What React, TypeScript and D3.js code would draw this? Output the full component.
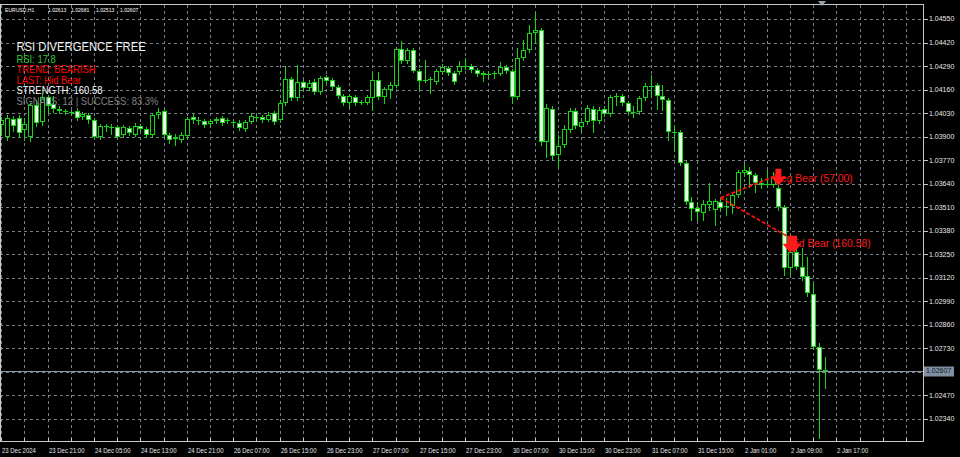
import React from 'react';
import * as d3 from 'd3';

// [open, high, low, close] hourly EURUSD bars, 23 Dec 2024 13:00 ... 2 Jan 2025 19:00
const candles: [number, number, number, number][] = [
  [1.03965, 1.04009, 1.03910, 1.03993],
  [1.03899, 1.04020, 1.03882, 1.04004],
  [1.03998, 1.04015, 1.03932, 1.03959],
  [1.04004, 1.04020, 1.03899, 1.03921],
  [1.03937, 1.04004, 1.03882, 1.03971],
  [1.03899, 1.04086, 1.03877, 1.04075],
  [1.04075, 1.04103, 1.03959, 1.03976],
  [1.03982, 1.04136, 1.03965, 1.04120],
  [1.04120, 1.04131, 1.04037, 1.04070],
  [1.04081, 1.04125, 1.04037, 1.04053],
  [1.04053, 1.04070, 1.04031, 1.04042],
  [1.04042, 1.04053, 1.04026, 1.04037],
  [1.04037, 1.04048, 1.04020, 1.04031],
  [1.04042, 1.04059, 1.03993, 1.04004],
  [1.04009, 1.04037, 1.03998, 1.04026],
  [1.04020, 1.04031, 1.03976, 1.03993],
  [1.03993, 1.04004, 1.03893, 1.03899],
  [1.03899, 1.03971, 1.03888, 1.03959],
  [1.03959, 1.03971, 1.03932, 1.03954],
  [1.03954, 1.03971, 1.03915, 1.03948],
  [1.03954, 1.03965, 1.03893, 1.03899],
  [1.03910, 1.03965, 1.03899, 1.03954],
  [1.03948, 1.03959, 1.03910, 1.03921],
  [1.03910, 1.03976, 1.03904, 1.03959],
  [1.03959, 1.03971, 1.03932, 1.03943],
  [1.03943, 1.03954, 1.03899, 1.03910],
  [1.03910, 1.04031, 1.03899, 1.04020],
  [1.04020, 1.04059, 1.04004, 1.04037],
  [1.04042, 1.04053, 1.03899, 1.03910],
  [1.03910, 1.03921, 1.03866, 1.03882],
  [1.03899, 1.03915, 1.03855, 1.03888],
  [1.03882, 1.03926, 1.03871, 1.03910],
  [1.03904, 1.04009, 1.03893, 1.03998],
  [1.04009, 1.04031, 1.03976, 1.03993],
  [1.03993, 1.04009, 1.03971, 1.03987],
  [1.03987, 1.03998, 1.03954, 1.03965],
  [1.03971, 1.03998, 1.03959, 1.03987],
  [1.03987, 1.04009, 1.03976, 1.03998],
  [1.04004, 1.04015, 1.03965, 1.03976],
  [1.03987, 1.04004, 1.03976, 1.03993],
  [1.03982, 1.03993, 1.03959, 1.03976],
  [1.03976, 1.03993, 1.03937, 1.03948],
  [1.03943, 1.03993, 1.03932, 1.03982],
  [1.03982, 1.04031, 1.03976, 1.04015],
  [1.04009, 1.04026, 1.03987, 1.04004],
  [1.04009, 1.04020, 1.03982, 1.03993],
  [1.03993, 1.04037, 1.03987, 1.04020],
  [1.04031, 1.04042, 1.03971, 1.03982],
  [1.03993, 1.04103, 1.03982, 1.04086],
  [1.04086, 1.04291, 1.04075, 1.04219],
  [1.04219, 1.04230, 1.04103, 1.04114],
  [1.04114, 1.04296, 1.04103, 1.04202],
  [1.04202, 1.04213, 1.04158, 1.04169],
  [1.04169, 1.04213, 1.04158, 1.04197],
  [1.04202, 1.04219, 1.04136, 1.04147],
  [1.04147, 1.04235, 1.04136, 1.04224],
  [1.04230, 1.04241, 1.04197, 1.04208],
  [1.04213, 1.04224, 1.04164, 1.04175],
  [1.04175, 1.04186, 1.04114, 1.04125],
  [1.04125, 1.04136, 1.04075, 1.04086],
  [1.04086, 1.04136, 1.04064, 1.04125],
  [1.04120, 1.04131, 1.04075, 1.04086],
  [1.04086, 1.04103, 1.04081, 1.04092],
  [1.04086, 1.04131, 1.04081, 1.04120],
  [1.04114, 1.04258, 1.04048, 1.04213],
  [1.04213, 1.04258, 1.04109, 1.04120],
  [1.04120, 1.04175, 1.04086, 1.04164],
  [1.04158, 1.04202, 1.04114, 1.04186],
  [1.04180, 1.04396, 1.04175, 1.04385],
  [1.04385, 1.04429, 1.04307, 1.04318],
  [1.04318, 1.04390, 1.04307, 1.04379],
  [1.04379, 1.04390, 1.04258, 1.04263],
  [1.04263, 1.04274, 1.04158, 1.04208],
  [1.04213, 1.04324, 1.04202, 1.04211],
  [1.04219, 1.04230, 1.04142, 1.04213],
  [1.04202, 1.04274, 1.04191, 1.04263],
  [1.04258, 1.04302, 1.04247, 1.04285],
  [1.04280, 1.04291, 1.04241, 1.04252],
  [1.04252, 1.04263, 1.04191, 1.04202],
  [1.04258, 1.04318, 1.04247, 1.04291],
  [1.04285, 1.04335, 1.04274, 1.04291],
  [1.04291, 1.04302, 1.04258, 1.04269],
  [1.04269, 1.04280, 1.04235, 1.04247],
  [1.04252, 1.04263, 1.04208, 1.04241],
  [1.04241, 1.04258, 1.04230, 1.04247],
  [1.04252, 1.04263, 1.04224, 1.04250],
  [1.04247, 1.04313, 1.04241, 1.04285],
  [1.04285, 1.04296, 1.04252, 1.04263],
  [1.04263, 1.04274, 1.04086, 1.04120],
  [1.04120, 1.04390, 1.04109, 1.04335],
  [1.04335, 1.04434, 1.04324, 1.04379],
  [1.04379, 1.04517, 1.04368, 1.04473],
  [1.04473, 1.04583, 1.04418, 1.04489],
  [1.04489, 1.04500, 1.03855, 1.03871],
  [1.03871, 1.04081, 1.03788, 1.04059],
  [1.04053, 1.04070, 1.03772, 1.03794],
  [1.03799, 1.03910, 1.03733, 1.03849],
  [1.03855, 1.03965, 1.03844, 1.03943],
  [1.03937, 1.04059, 1.03926, 1.04042],
  [1.04042, 1.04059, 1.03948, 1.03959],
  [1.03954, 1.04004, 1.03937, 1.03982],
  [1.03982, 1.04075, 1.03971, 1.04059],
  [1.04053, 1.04070, 1.03926, 1.03987],
  [1.03987, 1.04064, 1.03976, 1.04048],
  [1.04053, 1.04070, 1.04015, 1.04026],
  [1.04026, 1.04131, 1.04015, 1.04120],
  [1.04120, 1.04142, 1.04075, 1.04125],
  [1.04125, 1.04136, 1.04075, 1.04086],
  [1.04086, 1.04097, 1.04026, 1.04037],
  [1.04037, 1.04070, 1.04009, 1.04035],
  [1.04037, 1.04125, 1.04026, 1.04114],
  [1.04114, 1.04197, 1.04103, 1.04180],
  [1.04180, 1.04241, 1.04120, 1.04182],
  [1.04186, 1.04197, 1.04053, 1.04125],
  [1.04125, 1.04186, 1.04048, 1.04103],
  [1.04103, 1.04114, 1.03882, 1.03926],
  [1.03926, 1.03965, 1.03827, 1.03921],
  [1.03926, 1.03937, 1.03744, 1.03755],
  [1.03755, 1.03766, 1.03529, 1.03540],
  [1.03540, 1.03568, 1.03441, 1.03501],
  [1.03507, 1.03540, 1.03441, 1.03485],
  [1.03479, 1.03551, 1.03441, 1.03529],
  [1.03523, 1.03645, 1.03496, 1.03545],
  [1.03496, 1.03557, 1.03413, 1.03545],
  [1.03540, 1.03568, 1.03496, 1.03507],
  [1.03518, 1.03562, 1.03468, 1.03512],
  [1.03518, 1.03590, 1.03479, 1.03579],
  [1.03579, 1.03717, 1.03568, 1.03706],
  [1.03700, 1.03755, 1.03683, 1.03717],
  [1.03711, 1.03733, 1.03623, 1.03689],
  [1.03689, 1.03700, 1.03595, 1.03645],
  [1.03645, 1.03672, 1.03617, 1.03634],
  [1.03639, 1.03717, 1.03623, 1.03634],
  [1.03634, 1.03706, 1.03623, 1.03678],
  [1.03617, 1.03678, 1.03496, 1.03512],
  [1.03512, 1.03523, 1.03137, 1.03176],
  [1.03176, 1.03314, 1.03143, 1.03264],
  [1.03264, 1.03303, 1.03170, 1.03181],
  [1.03181, 1.03286, 1.03109, 1.03126],
  [1.03131, 1.03236, 1.03021, 1.03038],
  [1.03032, 1.03093, 1.02729, 1.02740],
  [1.02740, 1.02762, 1.02237, 1.02613],
  [1.02613, 1.02681, 1.02513, 1.02607],
];

const priceTicks = [
  1.0455, 1.0442, 1.0429, 1.0416, 1.0403, 1.039, 1.0377, 1.0364, 1.0351,
  1.0338, 1.0325, 1.0312, 1.0299, 1.0286, 1.0273, 1.026, 1.0247, 1.0234,
];
const hiddenPriceLabel = 1.026;
const lastPrice = 1.02607;

const timeLabelIdx = [0, 8, 16, 24, 32, 40, 48, 56, 64, 72, 80, 88, 96, 104, 112, 120, 128, 136, 144];
const timeLabelText = [
  '23 Dec 2024', '23 Dec 21:00', '24 Dec 05:00', '24 Dec 13:00', '24 Dec 21:00',
  '26 Dec 07:00', '26 Dec 15:00', '26 Dec 23:00', '27 Dec 07:00', '27 Dec 15:00',
  '27 Dec 23:00', '30 Dec 07:00', '30 Dec 15:00', '30 Dec 23:00', '31 Dec 07:00',
  '31 Dec 15:00', '2 Jan 01:00', '2 Jan 09:00', '2 Jan 17:00',
];

const headerTokens = ['EURUSD,H1', '1.02613', '1.02681', '1.02513', '1.02607'];
const panelTitle = 'RSI DIVERGENCE FREE';
const panelLines = ['RSI: 17.8', 'TREND: BEARISH', 'LAST: Hid Bear', 'STRENGTH: 160.58', 'SIGNALS: 12 | SUCCESS: 83.3%'];
const panelColors = ['#32cd32', '#ff0000', '#ff0000', '#ffffff', '#808080'];

// divergence lines: start and end as [bar index, price]
const divNames = ['Reg Bear (57.00)', 'Hid Bear (160.58)'];
const divStart: [number, number][] = [[124, 1.03562], [124, 1.03562]];
const divEnd: [number, number][] = [[134, 1.03689], [136, 1.03341]];
const arrowPrice = [1.03722, 1.03352];

const GREEN = '#16d616';
const BEAR_BODY = '#e4ffe4';
const GRID = '#75808c';
const FONT = '"Liberation Sans", Arial, sans-serif';

const W = 960;
const H = 457;
const RIGHT = 923.5;
const BOTTOM = 441.5;
const TOP = 4.5;

export default function App() {
  const x = d3.scaleLinear().domain([0, 144]).range([1.2, 836.4]);
  const y = d3.scaleLinear().domain([1.0234, 1.0455]).range([419, 19]);

  const gridIdx = d3.range(0, 160, 4).filter((i) => x(i) < RIGHT - 2);

  const arrowPath = (cx: number, top: number) =>
    `M${cx - 3},${top} L${cx + 3},${top} L${cx + 3},${top + 8} L${cx + 7.5},${top + 8} L${cx},${top + 17} L${cx - 7.5},${top + 8} L${cx - 3},${top + 8} Z`;

  return (
    <svg
      width={W}
      height={H}
      style={{ position: 'absolute', left: 0, top: 0, display: 'block', background: '#000' }}
      fontFamily={FONT}
    >
      <rect x={0} y={0} width={W} height={H} fill="#000" />
      <defs>
        <clipPath id="plot">
          <rect x={0} y={TOP} width={RIGHT} height={BOTTOM - TOP} />
        </clipPath>
      </defs>

      {/* grid */}
      <g stroke={GRID} strokeWidth={1} strokeDasharray="3,3" shapeRendering="crispEdges">
        {priceTicks.map((p) => (
          <line key={'h' + p} x1={0} x2={RIGHT} y1={Math.round(y(p)) + 0.5} y2={Math.round(y(p)) + 0.5} />
        ))}
        {gridIdx.map((i) => (
          <line key={'v' + i} x1={Math.round(x(i)) + 0.5} x2={Math.round(x(i)) + 0.5} y1={TOP} y2={BOTTOM} />
        ))}
      </g>

      {/* bid line */}
      <line
        x1={0}
        x2={RIGHT}
        y1={Math.round(y(lastPrice)) + 0.5}
        y2={Math.round(y(lastPrice)) + 0.5}
        stroke="#8a96a3"
        strokeWidth={1}
        shapeRendering="crispEdges"
      />

      {/* candles */}
      <g clipPath="url(#plot)" shapeRendering="crispEdges">
        {candles.map(([o, h, l, c], i) => {
          const xc = Math.round(x(i));
          const yH = Math.round(y(h));
          const yL = Math.round(y(l));
          const yT = Math.round(y(Math.max(o, c)));
          let yB = Math.round(y(Math.min(o, c)));
          if (yB - yT < 1) yB = yT + 1;
          const bear = c < o;
          return (
            <g key={i}>
              <rect x={xc} y={yH} width={1} height={Math.max(1, yL - yH + 1)} fill={GREEN} />
              <rect x={xc - 2} y={yT} width={5} height={yB - yT} fill={GREEN} />
              {yB - yT > 2 && (
                <rect x={xc - 1} y={yT + 1} width={3} height={yB - yT - 2} fill={bear ? BEAR_BODY : '#000'} />
              )}
            </g>
          );
        })}
      </g>

      {/* divergence lines */}
      <g clipPath="url(#plot)">
        {divStart.map((s, k) => (
          <line
            key={'d' + k}
            x1={x(s[0])}
            y1={y(s[1])}
            x2={x(divEnd[k][0])}
            y2={y(divEnd[k][1])}
            stroke="#ff1010"
            strokeWidth={1.8}
            strokeDasharray="4,2"
          />
        ))}
        {arrowPrice.map((p, k) => (
          <g key={'a' + k} fill="#ff1a1a">
            <path d={arrowPath(x(divEnd[k][0]), y(p))} />
            {k === 1 && <path d={arrowPath(x(divEnd[k][0]) + 4, y(p))} />}
          </g>
        ))}
        <text
          x={0}
          y={0}
          fontSize={11.5}
          fill="#ff1a1a"
          transform={`translate(${x(divEnd[0][0]) - 5},${y(divEnd[0][1]) + 7}) scale(0.9,1)`}
        >
          {divNames[0]}
        </text>
        <text
          x={0}
          y={0}
          fontSize={11.5}
          fill="#ff1a1a"
          transform={`translate(${x(divEnd[1][0]) - 1},${y(divEnd[1][1]) + 9}) scale(0.9,1)`}
        >
          {divNames[1]}
        </text>
      </g>

      {/* frame */}
      <rect x={0.5} y={TOP} width={RIGHT - 0.5} height={BOTTOM - TOP} fill="none" stroke="#c8c8c8" strokeWidth={1} shapeRendering="crispEdges" />

      {/* right price axis */}
      <g fontSize={7} fill="#e8e8e8">
        {priceTicks.map((p) => (
          <g key={'pl' + p}>
            <line x1={RIGHT} x2={RIGHT + 4} y1={Math.round(y(p)) + 0.5} y2={Math.round(y(p)) + 0.5} stroke="#c8c8c8" shapeRendering="crispEdges" />
            {p !== hiddenPriceLabel && (
              <text x={929} y={y(p)} dy="0.35em">
                {p.toFixed(5)}
              </text>
            )}
          </g>
        ))}
        <rect x={924} y={Math.round(y(lastPrice)) - 4.5} width={30} height={10} fill="#8090a2" />
        <text x={926} y={y(lastPrice)} dy="0.36em" fill="#10182a">
          {lastPrice.toFixed(5)}
        </text>
      </g>

      {/* bottom time axis */}
      <g fontSize={7.2} fill="#e8e8e8">
        {gridIdx.map((i) => (
          <line key={'t' + i} x1={Math.round(x(i)) + 0.5} x2={Math.round(x(i)) + 0.5} y1={BOTTOM - 4} y2={BOTTOM} stroke="#c8c8c8" shapeRendering="crispEdges" />
        ))}
        {timeLabelIdx.map((i, k) => (
          <text key={'tl' + i} x={0} y={0} transform={`translate(${Math.round(x(i)) + 1},452.5) scale(0.83,1)`}>
            {timeLabelText[k]}
          </text>
        ))}
      </g>

      {/* chart shift marker */}
      <path d="M818,1 L826,1 L822,6 Z" fill="#9aa4ae" />

      {/* header */}
      <g fontSize={6.2} fill="#ffffff">
        {headerTokens.map((t, k) => {
          const xs = [5, 48, 71, 96, 120][k];
          return (
            <text key={'hd' + k} x={0} y={0} transform={`translate(${xs},11.5) scale(0.82,1)`}>
              {t}
            </text>
          );
        })}
      </g>

      {/* indicator panel */}
      <text x={0} y={0} fontSize={12.5} fill="#f4f4f4" transform="translate(16.5,50.5) scale(0.9,1)">
        {panelTitle}
      </text>
      {panelLines.map((t, k) => (
        <text
          key={'pn' + k}
          x={0}
          y={0}
          fontSize={10.5}
          fill={panelColors[k]}
          transform={`translate(16.5,${63 + k * 10.4}) scale(0.9,1)`}
        >
          {t}
        </text>
      ))}
    </svg>
  );
}
